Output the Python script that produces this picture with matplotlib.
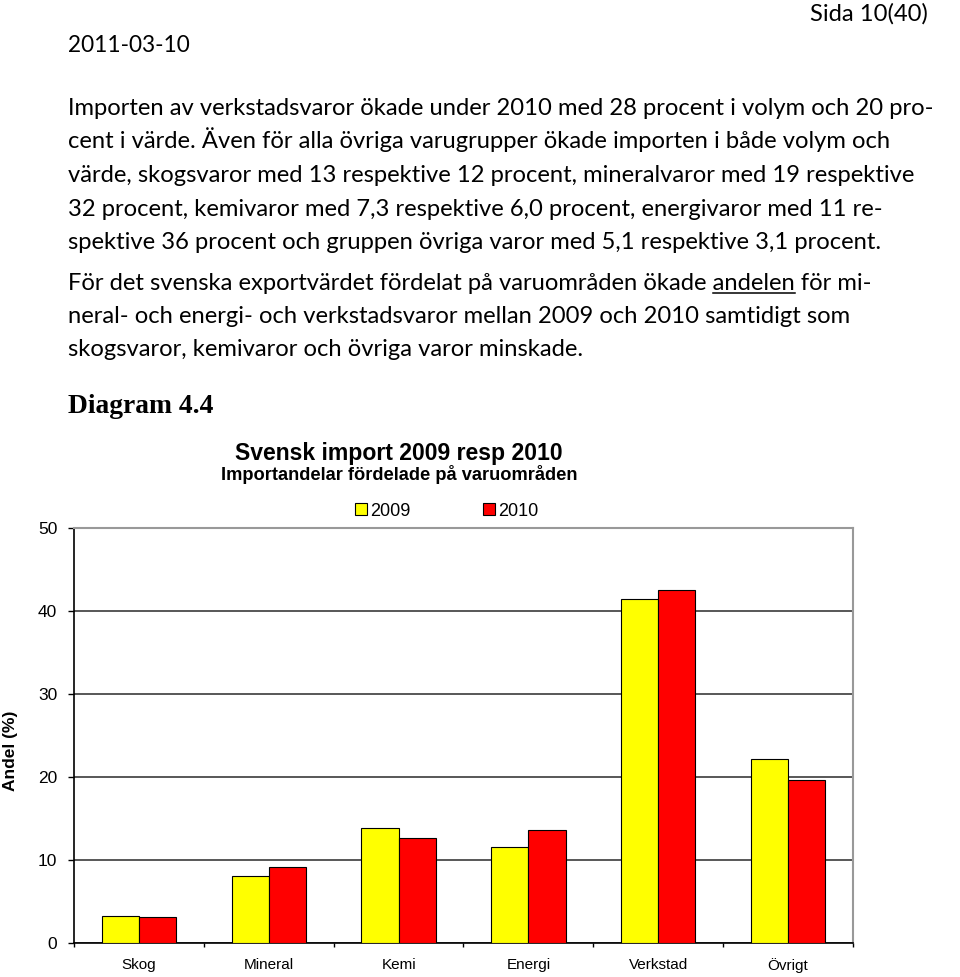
import numpy as np
import matplotlib
matplotlib.use("Agg")
import matplotlib.pyplot as plt
from matplotlib.patches import Patch
from matplotlib.lines import Line2D

# --- data ---
categories = ["Skog", "Mineral", "Kemi", "Energi", "Verkstad", "Övrigt"]
share_2009 = [3.2, 8.1, 13.9, 11.6, 41.4, 22.2]
share_2010 = [3.1, 9.2, 12.6, 13.6, 42.5, 19.6]
years = ["2009", "2010"]
y_ticks = [0, 10, 20, 30, 40, 50]

para1 = [
    "Importen av verkstadsvaror ökade under 2010 med 28 procent i volym och 20 pro-",
    "cent i värde. Även för alla övriga varugrupper ökade importen i både volym och",
    "värde, skogsvaror med 13 respektive 12 procent, mineralvaror med 19 respektive",
    "32 procent, kemivaror med 7,3 respektive 6,0 procent, energivaror med 11 re-",
    "spektive 36 procent och gruppen övriga varor med 5,1 respektive 3,1 procent.",
]
para2 = [
    "För det svenska exportvärdet fördelat på varuområden ökade andelen för mi-",
    "neral- och energi- och verkstadsvaror mellan 2009 och 2010 samtidigt som",
    "skogsvaror, kemivaror och övriga varor minskade.",
]
underlined = "andelen"

W, H = 960, 977
BODY = ["Lato", "DejaVu Sans"]
SANS = ["Liberation Sans", "DejaVu Sans"]


def fx(x):
    return x / W


def fy(y):
    return 1 - y / H


def fit_width(txt, target, renderer):
    w = txt.get_window_extent(renderer).width
    txt.set_fontsize(txt.get_fontsize() * target / w)
    return txt.get_fontsize()


fig = plt.figure(figsize=(9.6, 9.77), dpi=100)
renderer = fig.canvas.get_renderer()

# --- page header and body text ---
page = fig.text(fx(928), fy(21), "Sida 10(40)", family=BODY, fontsize=16,
                ha="right", va="baseline")
fit_width(page, 118, renderer)
date = fig.text(fx(68), fy(52), "2011-03-10", family=BODY, fontsize=16,
                ha="left", va="baseline")
fit_width(date, 122, renderer)

first = fig.text(fx(68), fy(115), para1[0], family=BODY, fontsize=16,
                 ha="left", va="baseline")
body_size = fit_width(first, 872, renderer)
for i, line in enumerate(para1[1:], start=1):
    fig.text(fx(68), fy(115 + 33.5 * i), line, family=BODY,
             fontsize=body_size, ha="left", va="baseline")
for i, line in enumerate(para2):
    fig.text(fx(68), fy(289.5 + 33.4 * i), line, family=BODY,
             fontsize=body_size, ha="left", va="baseline")

# underline under "andelen"
head = para2[0][:para2[0].index(underlined) + len(underlined)]
tmp_head = fig.text(fx(68), fy(289.5), head, family=BODY, fontsize=body_size)
tmp_word = fig.text(fx(68), fy(289.5), underlined, family=BODY, fontsize=body_size)
x_end = 68 + tmp_head.get_window_extent(renderer).width
x_start = x_end - tmp_word.get_window_extent(renderer).width
tmp_head.remove()
tmp_word.remove()
fig.add_artist(Line2D([fx(x_start), fx(x_end)], [fy(292.5), fy(292.5)],
                      color="black", linewidth=1.1))

diag = fig.text(fx(68), fy(413), "Diagram 4.4",
                family=["Liberation Serif", "DejaVu Serif"], weight="bold",
                fontsize=18, ha="left", va="baseline")
fit_width(diag, 145, renderer)

# --- chart titles ---
title = fig.text(fx(399), fy(460), "Svensk import 2009 resp 2010", family=SANS,
                 weight="bold", fontsize=16, ha="center", va="baseline")
fit_width(title, 328, renderer)
sub = fig.text(fx(399), fy(480), "Importandelar fördelade på varuområden",
               family=SANS, weight="bold", fontsize=12, ha="center", va="baseline")
fit_width(sub, 355, renderer)

# --- bar chart ---
ax = fig.add_axes([fx(74), fy(943), (853 - 74) / W, (943 - 528) / H])
x = np.arange(len(categories))
bw = 1 / 3.5
ax.bar(x - bw / 2, share_2009, bw, color="#FFFF00", edgecolor="black",
       linewidth=0.8, zorder=3, label=years[0])
ax.bar(x + bw / 2, share_2010, bw, color="#FF0000", edgecolor="black",
       linewidth=0.8, zorder=3, label=years[1])

ax.set_xlim(-0.5, len(categories) - 0.5)
ax.set_ylim(0, 50)
ax.set_yticks(y_ticks)
ax.set_yticklabels([str(t) for t in y_ticks], family=SANS, fontsize=12.5)
ax.set_xticks(np.arange(len(categories) + 1) - 0.5)
ax.set_xticklabels([])
ax.set_xticks(x, minor=True)
ax.set_xticklabels(categories, minor=True, family=SANS, fontsize=11)
ax.tick_params(axis="y", direction="out", length=4, width=1, pad=8)
ax.tick_params(axis="x", which="major", direction="out", length=3, width=1)
ax.tick_params(axis="x", which="minor", length=0, pad=11)

ax.set_axisbelow(True)
ax.yaxis.grid(True, color="#2a2a2a", linewidth=1.1)
for side in ("left", "bottom"):
    ax.spines[side].set_color("black")
    ax.spines[side].set_linewidth(1.2)
for side in ("top", "right"):
    ax.spines[side].set_color("#999999")
    ax.spines[side].set_linewidth(1.5)

fig.text(fx(11), fy(751), "Andel (%)", family=SANS, weight="bold", fontsize=12.5,
         rotation=90, ha="center", va="center")

handles = [Patch(facecolor="#FFFF00", edgecolor="black", linewidth=0.8),
           Patch(facecolor="#FF0000", edgecolor="black", linewidth=0.8)]
fig.legend(handles, years, loc="center", bbox_to_anchor=(fx(447), fy(511)),
           ncol=2, frameon=False, prop={"family": SANS, "size": 13},
           handlelength=0.65, handleheight=0.65, handletextpad=0.2,
           columnspacing=4.0, borderpad=0, borderaxespad=0)

fig.savefig("out.png", dpi=100)
